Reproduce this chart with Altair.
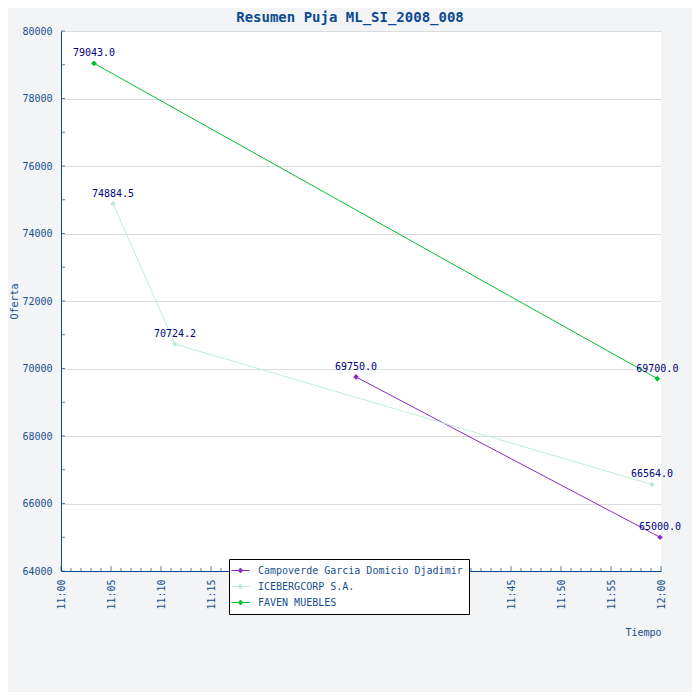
import altair as alt
import pandas as pd

# ---- data ----
series_names = ["Campoverde Garcia Domicio Djadimir", "ICEBERGCORP S.A.", "FAVEN MUEBLES"]
series_colors = ["#8A2BBE", "#BFEBD8", "#00C030"]

campo_times = ["11:29:30", "11:59:54"]
campo_vals = [69750.0, 65000.0]
ice_times = ["11:05:12", "11:11:24", "11:59:06"]
ice_vals = [74884.5, 70724.2, 66564.0]
faven_times = ["11:03:18", "11:59:38"]
faven_vals = [79043.0, 69700.0]

x_tick_minutes = list(range(0, 61))
x_label_minutes = list(range(0, 61, 5))
y_tick_values = list(range(64000, 80001, 1000))
y_label_values = list(range(64000, 80001, 2000))

FONT = "DejaVu Sans Mono"
AXIS_BLUE = "#0B4A90"
LABEL_BLUE = "#1A4F8F"


def to_min(t):
    h, m, s = [int(p) for p in t.split(":")]
    return (h - 11) * 60 + m + s / 60.0


rows = []
for name, times, vals in [
    (series_names[0], campo_times, campo_vals),
    (series_names[1], ice_times, ice_vals),
    (series_names[2], faven_times, faven_vals),
]:
    for t, v in zip(times, vals):
        rows.append({"serie": name, "min": to_min(t), "oferta": v})
df = pd.DataFrame(rows)

xticks = pd.DataFrame({"min": x_tick_minutes})
xticks["major"] = xticks["min"] % 5 == 0
yticks = pd.DataFrame({"oferta": y_tick_values})

xscale = alt.Scale(domain=[0, 60], nice=False, zero=False)
yscale = alt.Scale(domain=[64000, 80000], nice=False, zero=False)

legend_symbol = "M-1.8,0L1.8,0M0,-0.5L0.42,0L0,0.5L-0.42,0Z"

color = alt.Color(
    "serie:N",
    scale=alt.Scale(domain=series_names, range=series_colors),
    legend=alt.Legend(
        title=None,
        orient="none",
        legendX=168,
        legendY=528,
        direction="vertical",
        fillColor="white",
        strokeColor="black",
        padding=6,
        rowPadding=5,
        symbolType=legend_symbol,
        symbolSize=100,
        symbolStrokeWidth=1,
        labelOffset=12,
        labelFont=FONT,
        labelFontSize=10,
        labelColor=LABEL_BLUE,
        labelLimit=400,
        symbolOpacity=1,
    ),
)

x_enc = alt.X(
    "min:Q",
    scale=xscale,
    axis=alt.Axis(
        values=x_label_minutes,
        labelExpr="datum.value == 60 ? '12:00' : '11:' + (datum.value < 10 ? '0' : '') + datum.value",
        grid=False,
        ticks=False,
        labelAngle=270,
        labelAlign="right",
        labelBaseline="middle",
        labelPadding=8,
        title="Tiempo",
        titleAnchor="end",
        titleAlign="right",
        titleX=600,
        titleY=61,
        titleBaseline="middle",
        titleFontWeight="normal",
    ),
)
y_enc = alt.Y(
    "oferta:Q",
    scale=yscale,
    axis=alt.Axis(
        values=y_label_values,
        format="d",
        grid=True,
        ticks=False,
        labelPadding=9,
        title="Oferta",
        titleAngle=270,
        titleX=-47,
        titleY=270,
        titleAlign="center",
        titleBaseline="middle",
        titleFontWeight="normal",
    ),
)

base = alt.Chart(df)
lines = base.mark_line(strokeWidth=1).encode(x=x_enc, y=y_enc, color=color)
points = base.mark_point(shape="diamond", filled=True, size=32, opacity=1).encode(
    x="min:Q", y="oferta:Q", color=alt.Color("serie:N", legend=None)
)
labels = base.mark_text(dy=-10, font=FONT, fontSize=10, color="#000080").encode(
    x="min:Q", y="oferta:Q", text=alt.Text("oferta:Q", format=".1f")
)

xt_major = alt.Chart(xticks).transform_filter("datum.major").mark_tick(
    orient="vertical", size=5, thickness=1, yOffset=-2.5, color=AXIS_BLUE
).encode(x="min:Q", y=alt.value(540))
xt_minor = alt.Chart(xticks).transform_filter("!datum.major").mark_tick(
    orient="vertical", size=3, thickness=1, yOffset=-1.5, color=AXIS_BLUE
).encode(x="min:Q", y=alt.value(540))
yt = alt.Chart(yticks).mark_tick(
    orient="horizontal", size=4, thickness=1, xOffset=2, color=AXIS_BLUE
).encode(y="oferta:Q", x=alt.value(0))

chart = (
    alt.layer(lines, points, labels, xt_major, xt_minor, yt)
    .properties(
        width=600,
        height=540,
        autosize=alt.AutoSizeParams(type="none"),
        padding={"left": 53, "top": 23, "right": 31, "bottom": 121},
        background="#F3F4F6",
        title=alt.TitleParams(
            "Resumen Puja ML_SI_2008_008",
            font=FONT,
            fontSize=14,
            fontWeight="bold",
            color="#0B4A90",
            anchor="middle",
            dx=-11,
            offset=-13,
            baseline="bottom",
        ),
    )
    .configure_view(fill="white", stroke=None)
    .configure_axis(
        labelFont=FONT,
        labelFontSize=10,
        labelColor=LABEL_BLUE,
        titleFont=FONT,
        titleFontSize=10,
        titleColor=LABEL_BLUE,
        domainColor=AXIS_BLUE,
        domainWidth=1,
        gridColor="#DCDCDC",
        gridWidth=1,
    )
)

chart.save("out.html", embed_options={"renderer": "svg", "actions": False})
